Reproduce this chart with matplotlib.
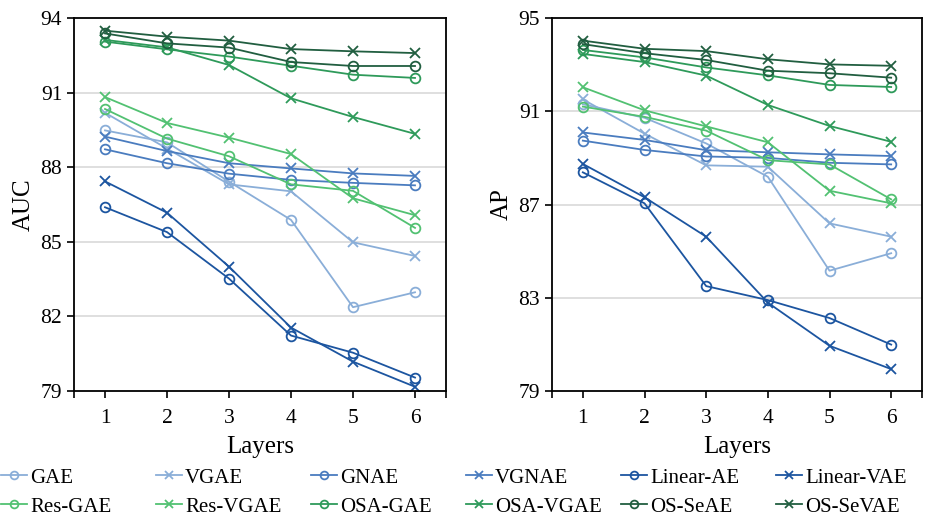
import numpy as np
import matplotlib
matplotlib.use("Agg")
import matplotlib.pyplot as plt

plt.rcParams['font.family'] = ['Liberation Serif', 'DejaVu Serif']

layers = [1, 2, 3, 4, 5, 6]
names = ['GAE', 'VGAE', 'GNAE', 'VGNAE', 'Linear-AE', 'Linear-VAE',
         'Res-GAE', 'Res-VGAE', 'OSA-GAE', 'OSA-VGAE', 'OS-SeAE', 'OS-SeVAE']

# AUC per model, layers 1..6
auc_gae = [89.48, 89.0, 87.42, 85.88, 82.37, 82.97]
auc_vgae = [90.19, 88.75, 87.31, 87.03, 84.98, 84.43]
auc_gnae = [88.72, 88.16, 87.74, 87.49, 87.37, 87.27]
auc_vgnae = [89.23, 88.65, 88.16, 87.95, 87.75, 87.65]
auc_linear_ae = [86.39, 85.39, 83.52, 81.23, 80.54, 79.54]
auc_linear_vae = [87.43, 86.17, 84.0, 81.55, 80.18, 79.17]
auc_res_gae = [90.34, 89.15, 88.44, 87.31, 87.05, 85.56]
auc_res_vgae = [90.82, 89.78, 89.19, 88.53, 86.75, 86.07]
auc_osa_gae = [93.05, 92.74, 92.45, 92.08, 91.72, 91.59]
auc_osa_vgae = [93.12, 92.82, 92.11, 90.77, 90.02, 89.34]
auc_os_seae = [93.38, 92.98, 92.81, 92.23, 92.07, 92.07]
auc_os_sevae = [93.49, 93.25, 93.09, 92.75, 92.66, 92.59]

# AP per model, layers 1..6
ap_gae = [91.3, 90.72, 89.62, 88.19, 84.16, 84.91]
ap_vgae = [91.51, 90.04, 88.68, 88.62, 86.19, 85.62]
ap_gnae = [89.74, 89.34, 89.06, 89.0, 88.79, 88.72]
ap_vgnae = [90.09, 89.77, 89.33, 89.24, 89.15, 89.08]
ap_linear_ae = [88.38, 87.05, 83.5, 82.9, 82.13, 80.99]
ap_linear_vae = [88.74, 87.31, 85.62, 82.79, 80.94, 79.94]
ap_res_gae = [91.2, 90.76, 90.17, 88.9, 88.72, 87.22]
ap_res_vgae = [92.03, 91.04, 90.35, 89.67, 87.59, 87.05]
ap_osa_gae = [93.63, 93.31, 92.88, 92.54, 92.13, 92.04]
ap_osa_vgae = [93.46, 93.11, 92.53, 91.27, 90.37, 89.69]
ap_os_seae = [93.88, 93.49, 93.2, 92.74, 92.63, 92.44]
ap_os_sevae = [94.03, 93.68, 93.58, 93.23, 93.01, 92.95]

auc = [auc_gae, auc_vgae, auc_gnae, auc_vgnae, auc_linear_ae, auc_linear_vae,
       auc_res_gae, auc_res_vgae, auc_osa_gae, auc_osa_vgae, auc_os_seae, auc_os_sevae]
ap = [ap_gae, ap_vgae, ap_gnae, ap_vgnae, ap_linear_ae, ap_linear_vae,
      ap_res_gae, ap_res_vgae, ap_osa_gae, ap_osa_vgae, ap_os_seae, ap_os_sevae]

colors = ['#8aaed8', '#8aaed8', '#4a7cbf', '#4a7cbf', '#1c55a0', '#1c55a0',
          '#52c172', '#52c172', '#2e9a5a', '#2e9a5a', '#215e40', '#215e40']
markers = ['o', 'x'] * 6

fig = plt.figure(figsize=(9.26, 5.17), dpi=100)
ax1 = fig.add_axes([74 / 926, 1 - 391 / 517, 372 / 926, 373 / 517])
ax2 = fig.add_axes([552 / 926, 1 - 391 / 517, 370 / 926, 373 / 517])


def draw(ax, data, ylim, yticks, ylabel):
    for vals, name, c, m in zip(data, names, colors, markers):
        if m == 'o':
            ax.plot(layers, vals, color=c, marker='o', markersize=7, markerfacecolor='none',
                    markeredgewidth=1.3, linewidth=1.3, label=name)
        else:
            ax.plot(layers, vals, color=c, marker='x', markersize=7,
                    markeredgewidth=1.3, linewidth=1.3, label=name)
    ax.set_xlim(0.5, 6.5)
    ax.set_ylim(*ylim)
    ax.set_yticks(yticks)
    ax.set_xticks(layers)
    ax.set_xticks([0.5, 6.5], minor=True)
    ax.tick_params(which='both', direction='out', length=5, width=1.2, labelsize=15.5)
    ax.tick_params(axis='x', pad=8)
    for t in yticks[1:-1]:
        ax.axhline(t, color='#d9d9d9', linewidth=1.2, zorder=0)
    for s in ax.spines.values():
        s.set_linewidth(1.3)
    ax.set_xlabel('Layers', fontsize=18, labelpad=6)
    ax.set_ylabel(ylabel, fontsize=18, labelpad=4)


draw(ax1, auc, (79, 94), [79, 82, 85, 88, 91, 94], 'AUC')
draw(ax2, ap, (79, 95), [79, 83, 87, 91, 95], 'AP')

# legend: 6 columns, two rows, filled row by row
handles, labels = ax1.get_legend_handles_labels()
for i in range(6):
    x0 = (1 + 155 * i) / 926
    fig.legend([handles[i], handles[i + 6]], [labels[i], labels[i + 6]],
               loc='upper left', bbox_to_anchor=(x0, 1 - 468 / 517), frameon=False,
               fontsize=15, handlelength=1.25, handletextpad=0.15, markerscale=0.8,
               labelspacing=0.45, borderaxespad=0, borderpad=0)

fig.savefig('out.png', dpi=100)
